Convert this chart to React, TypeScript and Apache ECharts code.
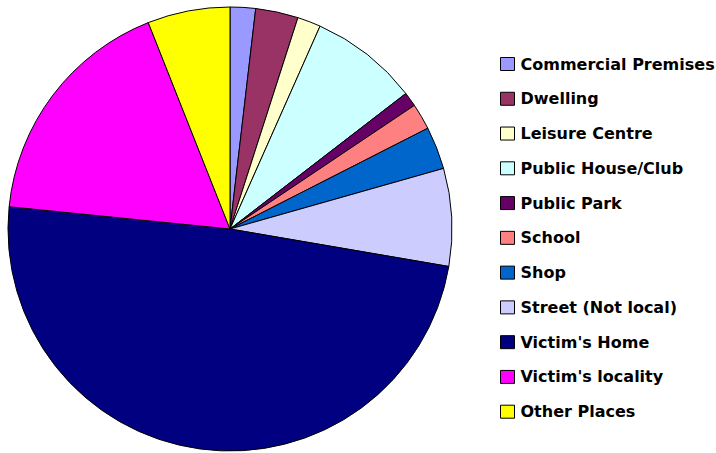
import React, { useEffect, useRef } from "react";
import * as echarts from "echarts";

const categories = [
  "Commercial Premises",
  "Dwelling",
  "Leisure Centre",
  "Public House/Club",
  "Public Park",
  "School",
  "Shop",
  "Street (Not local)",
  "Victim's Home",
  "Victim's locality",
  "Other Places",
];
const values = [1.85, 3.1, 1.7, 7.9, 1.05, 1.9, 3.1, 7.1, 48.9, 17.4, 6.0];
const colors = [
  "#9999FF",
  "#993366",
  "#FFFFCC",
  "#CCFFFF",
  "#660066",
  "#FF8080",
  "#0066CC",
  "#CCCCFF",
  "#000080",
  "#FF00FF",
  "#FFFF00",
];

export default function App() {
  const ref = useRef<HTMLDivElement>(null);
  useEffect(() => {
    if (!ref.current) return;
    const chart = echarts.init(ref.current, undefined, { renderer: "svg" });
    chart.setOption({
      animation: false,
      backgroundColor: "#ffffff",
      legend: {
        orient: "vertical",
        left: 495,
        top: 51,
        itemWidth: 14,
        itemHeight: 13,
        itemGap: 18.77,
        icon: "rect",
        selectedMode: false,
        data: categories,
        itemStyle: { borderColor: "#000", borderWidth: 1 },
        textStyle: {
          fontFamily: "DejaVu Sans",
          fontWeight: "bold",
          fontSize: 16,
          color: "#000",
          padding: [0, 0, 0, 1],
        },
      },
      series: [
        {
          type: "pie",
          center: [230, 229],
          radius: 222,
          startAngle: 90,
          clockwise: true,
          label: { show: false },
          labelLine: { show: false },
          emphasis: { disabled: true },
          itemStyle: { borderColor: "#000", borderWidth: 1 },
          data: categories.map((name, i) => ({
            name,
            value: values[i],
            itemStyle: { color: colors[i] },
          })),
        },
      ],
    });
    return () => chart.dispose();
  }, []);
  return (
    <div
      ref={ref}
      style={{ position: "fixed", left: 0, top: 0, width: 716, height: 453 }}
    />
  );
}
